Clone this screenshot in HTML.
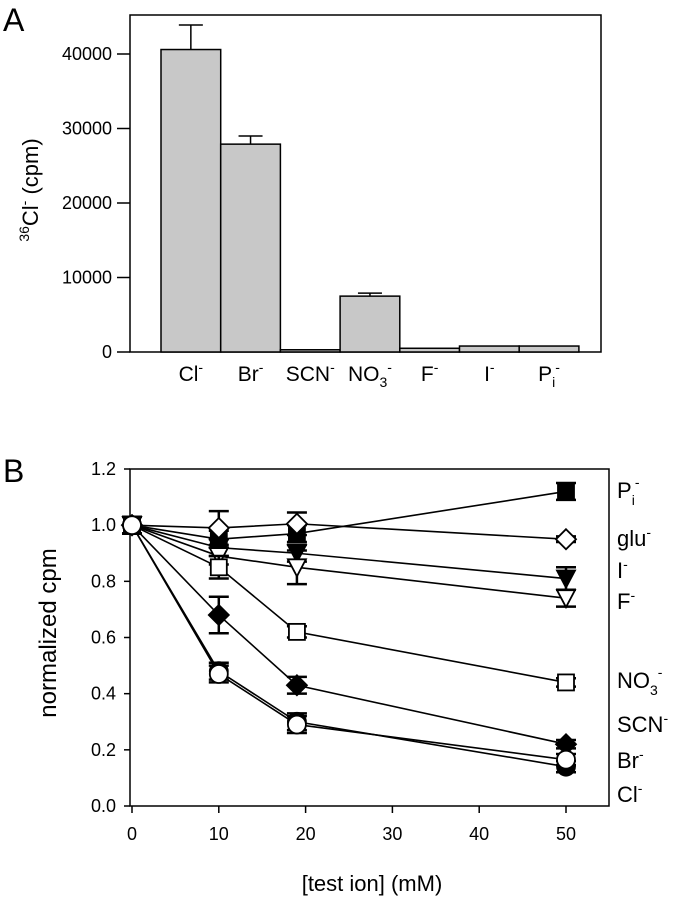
<!DOCTYPE html>
<html><head><meta charset="utf-8"><style>
body{margin:0;background:#fff;}
svg{display:block;font-family:"Liberation Sans",Arial,sans-serif;}
</style></head><body>
<svg id="s" width="677" height="900" viewBox="0 0 677 900">
<text x="3" y="31" font-size="32">A</text>
<text x="3" y="482" font-size="32">B</text>
<text transform="translate(38,190) rotate(-90)" text-anchor="middle" font-size="22"><tspan font-size="14" dy="-9">36</tspan><tspan dy="9">Cl</tspan><tspan font-size="14" dy="-9">-</tspan><tspan dy="9"> (cpm)</tspan></text>
<text transform="translate(56,633) rotate(-90)" text-anchor="middle" font-size="24">normalized cpm</text>
<text x="372" y="891" text-anchor="middle" font-size="22">[test ion] (mM)</text>
<g id="ga"></g><g id="gb"></g>
</svg>
<script>
const NS="http://www.w3.org/2000/svg";
// Panel A data
const aCats=["Cl","Br","SCN","NO3","F","I","Pi"];
const aVals=[40600,27900,300,7500,500,800,800];
const aErrs=[3300,1100,0,400,0,0,0];
const aTicks=[0,10000,20000,30000,40000];
// Panel B data
const bX=[0,10,19,50];
const clV=[1,0.47,0.29,0.165], clE=[0.03,0.03,0.03,0.02];
const brV=[1,0.48,0.30,0.14], brE=[0.03,0.03,0.03,0.02];
const scnV=[1,0.68,0.43,0.22], scnE=[0.03,0.065,0.03,0.015];
const no3V=[1,0.85,0.62,0.44], no3E=[0.03,0.04,0.02,0.015];
const fV=[1,0.89,0.85,0.74], fE=[0.03,0.03,0.06,0.03];
const iV=[1,0.92,0.90,0.81], iE=[0.03,0.03,0.03,0.04];
const gluV=[1,0.99,1.005,0.95], gluE=[0.03,0.06,0.04,0.01];
const piV=[1,0.95,0.97,1.12], piE=[0.03,0.03,0.03,0.03];
const bXTicks=[0,10,20,30,40,50];
const bYTicks=[0,0.2,0.4,0.6,0.8,1.0,1.2];

function el(p,t,a){const e=document.createElementNS(NS,t);for(const k in a)e.setAttribute(k,a[k]);p.appendChild(e);return e;}
const ga=document.getElementById('ga'), gb=document.getElementById('gb');

// Panel A
const aL=130,aR=601,aT=15,aB=352;
const ay=v=>aB-(v/40000)*(aB-54);
const bw=59.7, bx0=161;
let r=el(ga,'rect',{x:aL,y:aT,width:aR-aL,height:aB-aT,fill:'none',stroke:'#000','stroke-width':1.5});

aTicks.forEach(t=>{
 const l=el(ga,'line',{x1:117,x2:aL,y1:ay(t),y2:ay(t),stroke:'#000','stroke-width':1.5});
 
 const tx=el(ga,'text',{x:112,y:ay(t)+6,'text-anchor':'end','font-size':18});tx.textContent=t;
 
});
const aLabels=[["Cl","-"],["Br","-"],["SCN","-"],["NO","3-"],["F","-"],["I","-"],["P","i-"]];
aCats.forEach((c,i)=>{
 const x=bx0+i*bw, cx=x+bw/2;
 const b=el(ga,'rect',{x:x,y:ay(aVals[i]),width:bw,height:aB-ay(aVals[i]),fill:'#c8c8c8',stroke:'#000','stroke-width':1.5});
 
 if(aErrs[i]>0){
  const ey=ay(aVals[i]+aErrs[i]);
  const e=el(ga,'path',{d:`M${cx},${ay(aVals[i])}V${ey}M${cx-12},${ey}H${cx+12}`,stroke:'#000','stroke-width':1.5,fill:'none'});
  
 }
 const t=el(ga,'text',{x:cx,y:381,'text-anchor':'middle','font-size':21});
 const lb=aLabels[i];
 if(lb[1]==="3-"){t.innerHTML=`NO<tspan font-size="14" dy="6">3</tspan><tspan font-size="14" dy="-15">-</tspan>`;}
 else if(lb[1]==="i-"){t.innerHTML=`P<tspan font-size="14" dy="6">i</tspan><tspan font-size="14" dy="-15">-</tspan>`;}
 else t.innerHTML=`${lb[0]}<tspan font-size="14" dy="-9">-</tspan>`;
 
});

// Panel B
const bL=130,bR=609,bT=469,bB=806;
const bxs=v=>132+v*8.68;
const bys=v=>bB-(v/1.2)*(bB-469);
r=el(gb,'rect',{x:bL,y:bT,width:bR-bL,height:bB-bT,fill:'none',stroke:'#000','stroke-width':1.5});

bYTicks.forEach(t=>{
 const l=el(gb,'line',{x1:bL-6,x2:bL,y1:bys(t),y2:bys(t),stroke:'#000','stroke-width':1.5});
 
 const tx=el(gb,'text',{x:bL-14,y:bys(t)+6,'text-anchor':'end','font-size':18});tx.textContent=t.toFixed(1);
 
});
bXTicks.forEach(t=>{
 const l=el(gb,'line',{x1:bxs(t),x2:bxs(t),y1:bB,y2:bB+7,stroke:'#000','stroke-width':1.5});
 
 const tx=el(gb,'text',{x:bxs(t),y:bB+34,'text-anchor':'middle','font-size':18});tx.textContent=t;
 
});
const series=[
 {n:'pi',v:piV,e:piE,m:'square',f:'#000'},
 {n:'glu',v:gluV,e:gluE,m:'diamond',f:'#fff'},
 {n:'i',v:iV,e:iE,m:'tri',f:'#000'},
 {n:'f',v:fV,e:fE,m:'tri',f:'#fff'},
 {n:'no3',v:no3V,e:no3E,m:'square',f:'#fff'},
 {n:'scn',v:scnV,e:scnE,m:'diamond',f:'#000'},
 {n:'br',v:brV,e:brE,m:'circle',f:'#000'},
 {n:'cl',v:clV,e:clE,m:'circle',f:'#fff'}
];
series.forEach(s=>{
 const d=bX.map((x,i)=>(i?'L':'M')+bxs(x)+','+bys(s.v[i])).join('');
 const p=el(gb,'path',{d:d,fill:'none',stroke:'#000','stroke-width':1.6});
 
});
series.forEach(s=>{
 bX.forEach((x,i)=>{
  const cx=bxs(x),cy=bys(s.v[i]),t=bys(s.v[i]+s.e[i]),b=bys(s.v[i]-s.e[i]);
  const e=el(gb,'path',{d:`M${cx},${t}V${b}M${cx-10},${t}H${cx+10}M${cx-10},${b}H${cx+10}`,stroke:'#000','stroke-width':2.5,fill:'none'});
  
  let m;const a={fill:s.f,stroke:'#000','stroke-width':1.8};
  if(s.m==='square'){a.x=cx-8;a.y=cy-8;a.width=16;a.height=16;m=el(gb,'rect',a);}
  else if(s.m==='circle'){a.cx=cx;a.cy=cy;a.r=9;m=el(gb,'circle',a);}
  else if(s.m==='diamond'){a.points=`${cx},${cy-10} ${cx+10},${cy} ${cx},${cy+10} ${cx-10},${cy}`;m=el(gb,'polygon',a);}
  else {a.points=`${cx-9},${cy-8} ${cx+9},${cy-8} ${cx},${cy+9}`;m=el(gb,'polygon',a);}
  
 });
});
const legend=[["pi",'P<tspan font-size="14" dy="7">i</tspan><tspan font-size="14" dy="-18">-</tspan>',498],
 ["glu",'glu<tspan font-size="14" dy="-9">-</tspan>',546],
 ["i",'I<tspan font-size="14" dy="-9">-</tspan>',578],
 ["f",'F<tspan font-size="14" dy="-9">-</tspan>',609],
 ["no3",'NO<tspan font-size="14" dy="7">3</tspan><tspan font-size="14" dy="-18">-</tspan>',688],
 ["scn",'SCN<tspan font-size="14" dy="-9">-</tspan>',732],
 ["br",'Br<tspan font-size="14" dy="-9">-</tspan>',768],
 ["cl",'Cl<tspan font-size="14" dy="-9">-</tspan>',802]];
legend.forEach(l=>{
 const t=el(gb,'text',{x:617,y:l[2],'font-size':22});t.innerHTML=l[1];
 
});
</script>
</body></html>
